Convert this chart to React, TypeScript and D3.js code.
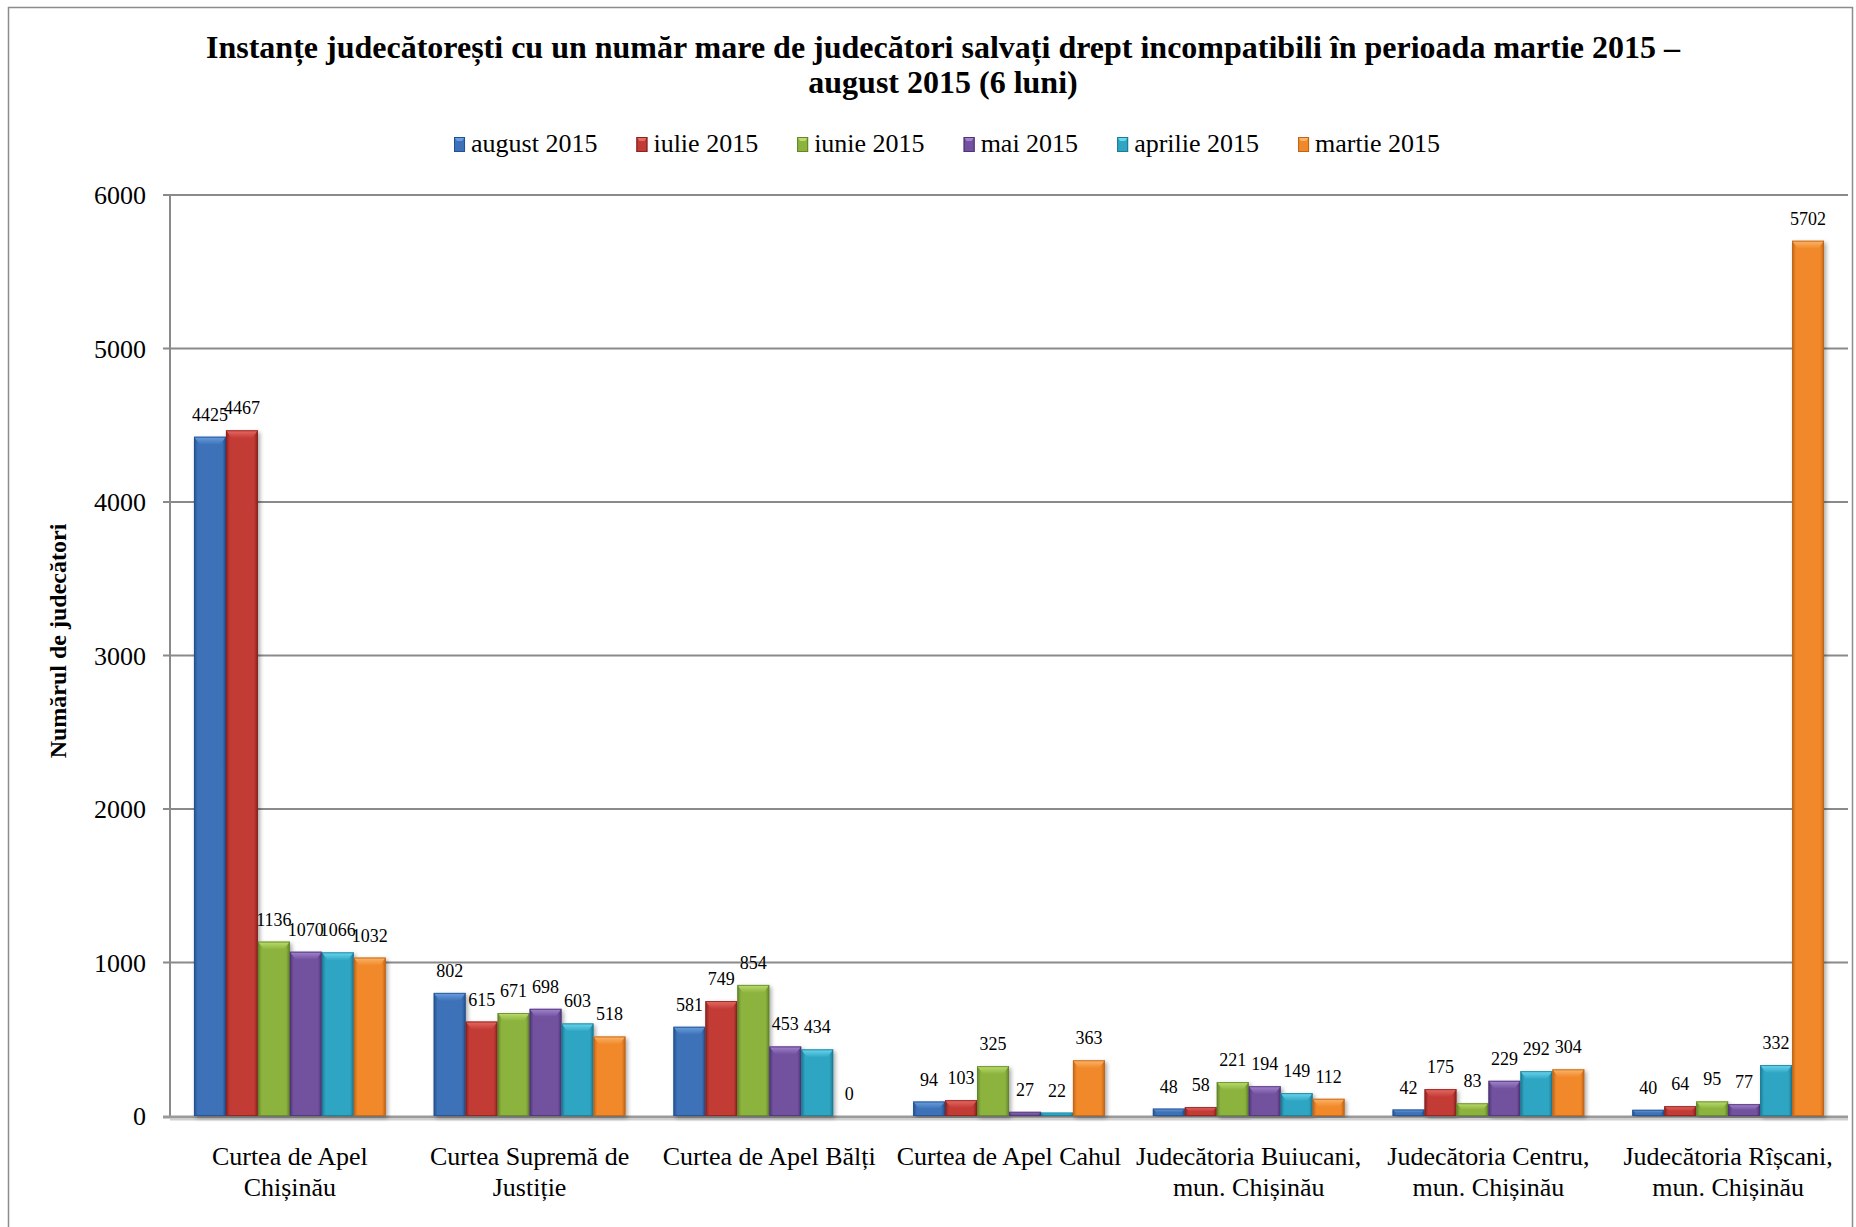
import React, { useEffect, useRef } from "react";
import * as d3 from "d3";

const titleLines = [
  "Instanțe judecătorești cu un număr mare de judecători salvați drept incompatibili în perioada martie 2015 –",
  "august 2015 (6 luni)",
];
const yAxisTitle = "Numărul de judecători";
const categories: string[][] = [
  ["Curtea de Apel", "Chișinău"],
  ["Curtea Supremă de", "Justiție"],
  ["Curtea de Apel Bălți"],
  ["Curtea de Apel Cahul"],
  ["Judecătoria Buiucani,", "mun. Chișinău"],
  ["Judecătoria Centru,", "mun. Chișinău"],
  ["Judecătoria Rîșcani,", "mun. Chișinău"],
];
const seriesNames = ["august 2015", "iulie 2015", "iunie 2015", "mai 2015", "aprilie 2015", "martie 2015"];
const august2015 = [4425, 802, 581, 94, 48, 42, 40];
const iulie2015 = [4467, 615, 749, 103, 58, 175, 64];
const iunie2015 = [1136, 671, 854, 325, 221, 83, 95];
const mai2015 = [1070, 698, 453, 27, 194, 229, 77];
const aprilie2015 = [1066, 603, 434, 22, 149, 292, 332];
const martie2015 = [1032, 518, 0, 363, 112, 304, 5702];
const yTicks = [0, 1000, 2000, 3000, 4000, 5000, 6000];

const seriesValues = [august2015, iulie2015, iunie2015, mai2015, aprilie2015, martie2015];
const seriesColors = [
  { base: "#3D72B8", hi: "#6A9FE0", dark: "#23508E" },
  { base: "#C23A36", hi: "#E86A63", dark: "#8A2220" },
  { base: "#8CB33E", hi: "#BCDD6C", dark: "#62842A" },
  { base: "#72519F", hi: "#A385CE", dark: "#4E3476" },
  { base: "#2FA5C3", hi: "#6AD8F0", dark: "#1C7B94" },
  { base: "#F1892A", hi: "#FBB56A", dark: "#BF6419" },
];

const FONT = "'Liberation Serif', 'Times New Roman', serif";

export default function App() {
  const ref = useRef<SVGSVGElement | null>(null);

  useEffect(() => {
    const svg = d3.select(ref.current);
    svg.selectAll("*").remove();

    const W = 1856, H = 1227;
    const left = 170, right = 1848, top = 195, bottom = 1116;

    const defs = svg.append("defs");
    const shadow = defs.append("filter").attr("id", "shadow").attr("x", "-20%").attr("y", "-5%").attr("width", "150%").attr("height", "115%");
    shadow.append("feDropShadow").attr("dx", 2).attr("dy", 2).attr("stdDeviation", 2).attr("flood-color", "#000").attr("flood-opacity", 0.35);

    seriesColors.forEach((c, i) => {
      const g = defs.append("linearGradient").attr("id", `grad${i}`).attr("x1", "0").attr("x2", "1").attr("y1", "0").attr("y2", "0");
      g.append("stop").attr("offset", "0%").attr("stop-color", c.dark);
      g.append("stop").attr("offset", "12%").attr("stop-color", c.base);
      g.append("stop").attr("offset", "50%").attr("stop-color", c.base);
      g.append("stop").attr("offset", "88%").attr("stop-color", c.base);
      g.append("stop").attr("offset", "100%").attr("stop-color", c.dark);
      const t = defs.append("linearGradient").attr("id", `top${i}`).attr("x1", "0").attr("x2", "0").attr("y1", "0").attr("y2", "1");
      t.append("stop").attr("offset", "0%").attr("stop-color", c.hi);
      t.append("stop").attr("offset", "100%").attr("stop-color", c.base);
    });

    // border
    svg.append("rect").attr("x", 8.5).attr("y", 7.5).attr("width", 1844).attr("height", 1240)
      .attr("fill", "none").attr("stroke", "#8c8c8c").attr("stroke-width", 1.5);

    // title
    titleLines.forEach((t, i) => {
      svg.append("text").attr("x", 943).attr("y", 58 + i * 35).attr("text-anchor", "middle")
        .attr("font-family", FONT).attr("font-weight", "bold").attr("font-size", 32).attr("fill", "#000").text(t);
    });

    const y = d3.scaleLinear().domain([0, 6000]).range([bottom, top]);
    const x0 = d3.scaleBand<number>().domain(d3.range(categories.length)).range([left, right]).paddingInner(0.2).paddingOuter(0.1);
    const x1 = d3.scaleBand<number>().domain(d3.range(seriesNames.length)).range([0, x0.bandwidth()]).padding(0);

    // gridlines
    yTicks.forEach((t) => {
      if (t === 0) return;
      svg.append("line").attr("x1", left - 7).attr("x2", right).attr("y1", y(t)).attr("y2", y(t))
        .attr("stroke", "#8a8a8a").attr("stroke-width", 2);
    });
    // axis
    svg.append("line").attr("x1", left).attr("x2", left).attr("y1", top).attr("y2", bottom)
      .attr("stroke", "#8a8a8a").attr("stroke-width", 2);
    // floor
    svg.append("line").attr("x1", left - 7).attr("x2", right).attr("y1", bottom + 1).attr("y2", bottom + 1)
      .attr("stroke", "#9a9a9a").attr("stroke-width", 3);
    svg.append("line").attr("x1", left).attr("x2", right).attr("y1", bottom + 3.5).attr("y2", bottom + 3.5)
      .attr("stroke", "#d0d0d0").attr("stroke-width", 2);

    // y tick labels
    yTicks.forEach((t) => {
      svg.append("text").attr("x", 146).attr("y", y(t) + 9).attr("text-anchor", "end")
        .attr("font-family", FONT).attr("font-size", 26).attr("fill", "#000").text(String(t));
    });

    // y axis title
    svg.append("text").attr("transform", `translate(66,641) rotate(-90)`).attr("text-anchor", "middle")
      .attr("font-family", FONT).attr("font-weight", "bold").attr("font-size", 24).attr("fill", "#000").text(yAxisTitle);

    // bars
    const barsG = svg.append("g");
    categories.forEach((_, ci) => {
      seriesValues.forEach((vals, si) => {
        const v = vals[ci];
        const bx = (x0(ci) as number) + (x1(si) as number);
        const bw = x1.bandwidth();
        const by = y(v);
        const bh = bottom - by;
        const c = seriesColors[si];
        if (bh > 0) {
          const g = barsG.append("g");
          g.append("rect").attr("x", bx).attr("y", by).attr("width", bw).attr("height", bh)
            .attr("fill", `url(#grad${si})`).attr("filter", "url(#shadow)");
          const bev = Math.min(8, bh / 2);
          const ins = Math.min(6, bev);
          g.append("polygon")
            .attr("points", `${bx},${by} ${bx + bw},${by} ${bx + bw - ins},${by + bev} ${bx + ins},${by + bev}`)
            .attr("fill", `url(#top${si})`);
          g.append("rect").attr("x", bx + 0.5).attr("y", by + 0.5).attr("width", bw - 1).attr("height", Math.max(0, bh - 1))
            .attr("fill", "none").attr("stroke", c.dark).attr("stroke-opacity", 0.8).attr("stroke-width", 1);
        }
        svg.append("text").attr("x", bx + bw / 2).attr("y", by - 16).attr("text-anchor", "middle")
          .attr("font-family", FONT).attr("font-size", 18).attr("fill", "#000").text(String(v));
      });
    });

    // category labels
    categories.forEach((lines, ci) => {
      const cx = (x0(ci) as number) + x0.bandwidth() / 2;
      lines.forEach((ln, li) => {
        svg.append("text").attr("x", cx).attr("y", 1165 + li * 31).attr("text-anchor", "middle")
          .attr("font-family", FONT).attr("font-size", 26).attr("fill", "#000").text(ln);
      });
    });

    // legend
    const legend = svg.append("g");
    const items: { g: any; w: number }[] = [];
    seriesNames.forEach((name, si) => {
      const g = legend.append("g");
      const c = seriesColors[si];
      g.append("rect").attr("x", 0).attr("y", -15).attr("width", 11).attr("height", 15).attr("fill", `url(#grad${si})`);
      g.append("polygon").attr("points", `0,-15 11,-15 8,-11 3,-11`).attr("fill", c.hi);
      g.append("rect").attr("x", 0.5).attr("y", -14.5).attr("width", 10).attr("height", 14).attr("fill", "none").attr("stroke", c.dark).attr("stroke-width", 1);
      const t = g.append("text").attr("x", 17).attr("y", 0).attr("font-family", FONT).attr("font-size", 26).attr("fill", "#000").text(name);
      const tw = (t.node() as SVGTextElement).getComputedTextLength();
      items.push({ g, w: 17 + tw });
    });
    const gap = 39;
    const total = d3.sum(items, (d) => d.w) + gap * (items.length - 1);
    let cx = 947 - total / 2;
    items.forEach((it) => {
      it.g.attr("transform", `translate(${cx},152)`);
      cx += it.w + gap;
    });

    svg.attr("width", W).attr("height", H);
  }, []);

  return (
    <svg ref={ref} width={1856} height={1227} style={{ position: "absolute", left: 0, top: 0, background: "#fff" }} />
  );
}
